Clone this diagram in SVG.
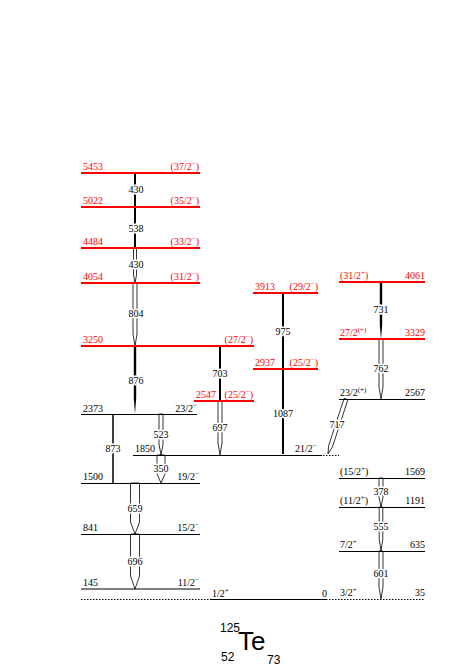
<svg xmlns="http://www.w3.org/2000/svg" width="463" height="668" viewBox="0 0 463 668">
<style>
text{font-family:"Liberation Serif","Times New Roman",serif;font-size:10px;fill:#000}
.r text{fill:#ff0000}
.s{font-size:7px}
.lv{stroke:#000;stroke-width:1;fill:none}
.lr{stroke:#ff0000;stroke-width:2;fill:none}
.dot{stroke:#000;stroke-width:1;stroke-dasharray:1.5 1.5;fill:none}
.op{fill:#fff;stroke:#000;stroke-width:0.8}
.fl{fill:#000;stroke:none}
.ln{stroke:#000;fill:none}
.tl{text-anchor:middle;paint-order:stroke;stroke:#fff;stroke-width:3px;stroke-linejoin:round}
.e{text-anchor:end}
text.nuc{font-family:"Liberation Sans",Arial,sans-serif;font-size:12px}
text.te{font-size:26px}
</style>
<rect width="463" height="668" fill="#fff"/>

<g id="connectors">
<line class="ln" x1="135" y1="173" x2="135" y2="207" stroke-width="2"/>
<line class="ln" x1="135" y1="207" x2="135" y2="248" stroke-width="2"/>
<polygon class="op" points="133.5,248 133.5,275 135,283 136.5,275 136.5,248"/>
<polygon class="op" points="133,283 133,334 135,346 137,334 137,283"/>
<polygon class="fl" points="133.8,346 133.8,398 135,414 136.2,398 136.2,346"/>
<line class="ln" x1="220" y1="346" x2="220" y2="401" stroke-width="2"/>
<polygon class="op" points="218,401 218,443 220,455 222,443 222,401"/>
<polygon class="op" points="159,414 159,444 161,455 163,444 163,414"/>
<line class="ln" x1="113" y1="414" x2="113" y2="483" stroke-width="1.5"/>
<polygon class="op" points="157,455 157,474 161,483 165,474 165,455"/>
<polygon class="op" points="130.5,483 130.5,522 135,534 139.5,522 139.5,483"/>
<polygon class="op" points="130.5,534 130.5,576 135,589 139.5,576 139.5,534"/>
<line class="ln" x1="283" y1="293" x2="283" y2="369" stroke-width="2"/>
<line class="ln" x1="283" y1="369" x2="283" y2="454" stroke-width="2"/>
<polygon class="op" points="347.9,399.6 332.4,447 328,454 328.6,445.8 344.1,398.4"/>
<polygon class="fl" points="379.8,282 379.8,325 381,339 382.2,325 382.2,282"/>
<polygon class="op" points="379,339 379,387 381,399 383,387 383,339"/>
<polygon class="op" points="379,478 379,497 381,507 383,497 383,478"/>
<polygon class="op" points="379.2,507 379.2,539 381,551 382.8,539 382.8,507"/>
<polygon class="op" points="379,551 379,587 381,599 383,587 383,551"/>
<text class="tl" x="136" y="193">430</text>
<text class="tl" x="136" y="232">538</text>
<text class="tl" x="136" y="268">430</text>
<text class="tl" x="136" y="317">804</text>
<text class="tl" x="136" y="384">876</text>
<text class="tl" x="220" y="377">703</text>
<text class="tl" x="220" y="431">697</text>
<text class="tl" x="161" y="438">523</text>
<text class="tl" x="113" y="452">873</text>
<text class="tl" x="161" y="472">350</text>
<text class="tl" x="135" y="512">659</text>
<text class="tl" x="135" y="565">696</text>
<text class="tl" x="283" y="335">975</text>
<text class="tl" x="283" y="417">1087</text>
<text class="tl" x="337" y="428">717</text>
<text class="tl" x="381" y="313">731</text>
<text class="tl" x="381" y="372">762</text>
<text class="tl" x="381" y="495">378</text>
<text class="tl" x="381" y="530">555</text>
<text class="tl" x="381" y="577">601</text>
</g>

<g id="L5453" class="r"><line class="lr" x1="81" y1="173" x2="200" y2="173"/><text x="83" y="170">5453</text><text class="e" x="199" y="170">(37/2<tspan class="s" dy="-4">−</tspan><tspan dy="4">)</tspan></text></g>
<g id="L5022" class="r"><line class="lr" x1="81" y1="207" x2="200" y2="207"/><text x="83" y="204">5022</text><text class="e" x="199" y="204">(35/2<tspan class="s" dy="-4">−</tspan><tspan dy="4">)</tspan></text></g>
<g id="L4484" class="r"><line class="lr" x1="81" y1="248" x2="200" y2="248"/><text x="83" y="245">4484</text><text class="e" x="199" y="245">(33/2<tspan class="s" dy="-4">−</tspan><tspan dy="4">)</tspan></text></g>
<g id="L4054" class="r"><line class="lr" x1="81" y1="283" x2="200" y2="283"/><text x="83" y="280">4054</text><text class="e" x="199" y="280">(31/2<tspan class="s" dy="-4">−</tspan><tspan dy="4">)</tspan></text></g>
<g id="L3250" class="r"><line class="lr" x1="81" y1="346" x2="254" y2="346"/><text x="83" y="343">3250</text><text class="e" x="253" y="343">(27/2<tspan class="s" dy="-4">−</tspan><tspan dy="4">)</tspan></text></g>
<g id="L2547" class="r"><line class="lr" x1="194" y1="401" x2="254" y2="401"/><text x="196" y="398">2547</text><text class="e" x="253" y="398">(25/2<tspan class="s" dy="-4">−</tspan><tspan dy="4">)</tspan></text></g>
<g id="L2373"><line class="lv" x1="81" y1="414.5" x2="197" y2="414.5"/><text x="83" y="412">2373</text><text class="e" x="197" y="412">23/2<tspan class="s" dy="-4">−</tspan></text></g>
<g id="L1850"><line class="lv" x1="133" y1="455.5" x2="322" y2="455.5"/><line class="dot" x1="323" y1="455.5" x2="339" y2="455.5"/><text x="135" y="452">1850</text><text x="295" y="452">21/2<tspan class="s" dy="-4">−</tspan></text></g>
<g id="L1500"><line class="lv" x1="81" y1="483.5" x2="200" y2="483.5"/><text x="83" y="480">1500</text><text class="e" x="199" y="480">19/2<tspan class="s" dy="-4">−</tspan></text></g>
<g id="L841"><line class="lv" x1="81" y1="534.5" x2="200" y2="534.5"/><text x="83" y="531">841</text><text class="e" x="199" y="531">15/2<tspan class="s" dy="-4">−</tspan></text></g>
<g id="L145"><line class="lv" x1="81" y1="589" x2="200" y2="589" stroke-width="3"/><text x="83" y="586">145</text><text class="e" x="199" y="586">11/2<tspan class="s" dy="-4">−</tspan></text></g>
<g id="L0"><line class="dot" x1="81" y1="599.5" x2="210" y2="599.5"/><line class="lv" x1="210" y1="599.5" x2="326" y2="599.5"/><text x="212" y="597">1/2<tspan class="s" dy="-4">+</tspan></text><text class="e" x="327" y="597">0</text></g>
<g id="L3913" class="r"><line class="lr" x1="253" y1="293" x2="318" y2="293"/><text x="255" y="290">3913</text><text class="e" x="318" y="290">(29/2<tspan class="s" dy="-4">−</tspan><tspan dy="4">)</tspan></text></g>
<g id="L2937" class="r"><line class="lr" x1="253" y1="369" x2="318" y2="369"/><text x="255" y="366">2937</text><text class="e" x="318" y="366">(25/2<tspan class="s" dy="-4">−</tspan><tspan dy="4">)</tspan></text></g>
<g id="L4061" class="r"><line class="lr" x1="339" y1="282" x2="425" y2="282"/><text x="340" y="279">(31/2<tspan class="s" dy="-4">+</tspan><tspan dy="4">)</tspan></text><text class="e" x="425" y="279">4061</text></g>
<g id="L3329" class="r"><line class="lr" x1="339" y1="339" x2="425" y2="339"/><text x="340" y="336">27/2<tspan class="s" dy="-4">(+)</tspan></text><text class="e" x="425" y="336">3329</text></g>
<g id="L2567"><line class="lv" x1="339" y1="399.5" x2="425" y2="399.5"/><text x="340" y="396">23/2<tspan class="s" dy="-4">(+)</tspan></text><text class="e" x="425" y="396">2567</text></g>
<g id="L1569"><line class="lv" x1="339" y1="478.5" x2="425" y2="478.5"/><text x="340" y="475">(15/2<tspan class="s" dy="-4">+</tspan><tspan dy="4">)</tspan></text><text class="e" x="425" y="475">1569</text></g>
<g id="L1191"><line class="lv" x1="339" y1="507.5" x2="425" y2="507.5"/><text x="340" y="504">(11/2<tspan class="s" dy="-4">+</tspan><tspan dy="4">)</tspan></text><text class="e" x="425" y="504">1191</text></g>
<g id="L635"><line class="lv" x1="339" y1="551.5" x2="425" y2="551.5"/><text x="340" y="548">7/2<tspan class="s" dy="-4">+</tspan></text><text class="e" x="425" y="548">635</text></g>
<g id="L35"><line class="dot" x1="326" y1="599.5" x2="425" y2="599.5"/><text x="340" y="596">3/2<tspan class="s" dy="-4">+</tspan></text><text class="e" x="425" y="596">35</text></g>

<g id="nucleus">
<text class="nuc" x="220" y="632">125</text>
<text class="nuc te" x="238" y="650">Te</text>
<text class="nuc" x="221" y="661">52</text>
<text class="nuc" x="267" y="664">73</text>
</g>
</svg>
